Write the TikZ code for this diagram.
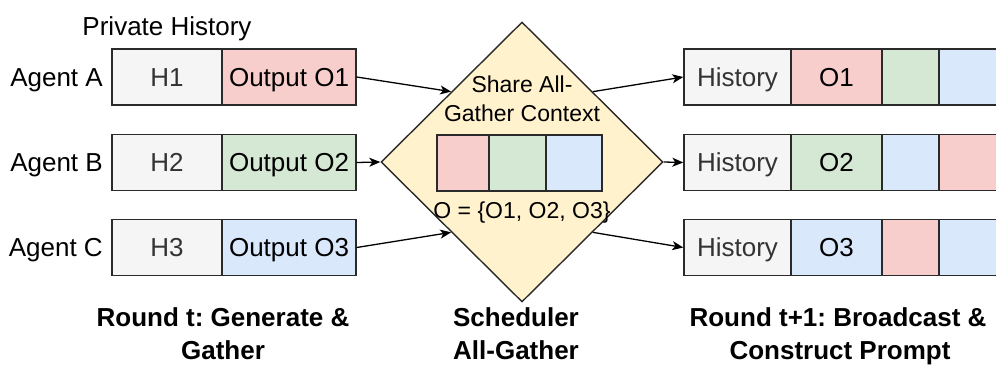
\documentclass[tikz,border=0pt]{standalone}
\usepackage{fontspec}
\setmainfont{Liberation Sans}
\usetikzlibrary{shapes.geometric,arrows.meta}
\definecolor{cgray}{HTML}{F5F5F5}
\definecolor{cred}{HTML}{F8CECC}
\definecolor{cgreen}{HTML}{D5E8D4}
\definecolor{cblue}{HTML}{DAE8FC}
\definecolor{cyellow}{HTML}{FFF2CC}
\definecolor{ctext}{HTML}{333333}
\definecolor{cline}{HTML}{2A2A2A}
\tikzset{
  cell/.style={draw=cline, line width=1.4pt, inner sep=0pt, minimum height=56pt,
    text height=18.6pt, text depth=0pt, font=\fontsize{26}{30}\selectfont},
  gcell/.style={cell, fill=cgray, text=ctext},
  rcell/.style={cell, fill=cred},
  gncell/.style={cell, fill=cgreen},
  bcell/.style={cell, fill=cblue},
  lbl/.style={inner sep=0pt, anchor=base, font=\fontsize{26}{30}\selectfont},
  dlbl/.style={inner sep=0pt, anchor=base, font=\fontsize{23}{28}\selectfont},
  blbl/.style={inner sep=0pt, anchor=base, font=\fontsize{26}{30}\selectfont\bfseries},
  arr/.style={draw=black, line width=1.3pt, -{Stealth[length=11pt,width=9pt,inset=3pt]}},
}
\begin{document}
\frenchspacing
\begin{tikzpicture}[x=1pt,y=-1pt]
\useasboundingbox (0,0) rectangle (996,375);

% left side
\node[lbl] (ph) at (167,35) {Private History};
\node[lbl, anchor=base east] (agA) at (103,86.3) {Agent A};
\node[lbl, anchor=base east] (agB) at (103,171.8) {Agent B};
\node[lbl, anchor=base east] (agC) at (103,256.8) {Agent C};

\node[gcell, minimum width=110pt] (h1) at (167,77) {H1};
\node[rcell, minimum width=134pt] (oA) at (289,77) {Output O1};
\node[gcell, minimum width=110pt] (h2) at (167,162.5) {H2};
\node[gncell, minimum width=134pt] (oB) at (289,162.5) {Output O2};
\node[gcell, minimum width=110pt] (h3) at (167,247.5) {H3};
\node[bcell, minimum width=134pt] (oC) at (289,247.5) {Output O3};

% scheduler diamond
\node[draw=cline, line width=1.4pt, fill=cyellow, shape=diamond, inner sep=0pt,
      minimum width=282pt, minimum height=280pt] (dia) at (522,162) {};
\node[dlbl] (t1) at (522,92.7) {Share All-};
\node[dlbl] (t2) at (522,121.7) {Gather Context};
\node[rcell, minimum width=52pt] (s1) at (463,163) {};
\node[gncell, minimum width=57pt] (s2) at (517.5,163) {};
\node[bcell, minimum width=56pt] (s3) at (574,163) {};
\node[dlbl] (t3) at (522,218.5) {O = \{O1, O2, O3\}};

% right side
\node[gcell, minimum width=107pt] (rA1) at (737.5,77) {History};
\node[rcell, minimum width=91pt] (rA2) at (836.5,77) {O1};
\node[gncell, minimum width=57pt] (rA3) at (910.5,77) {};
\node[bcell, minimum width=58pt] (rA4) at (968,77) {};

\node[gcell, minimum width=107pt] (rB1) at (737.5,162.5) {History};
\node[gncell, minimum width=91pt] (rB2) at (836.5,162.5) {O2};
\node[bcell, minimum width=57pt] (rB3) at (910.5,162.5) {};
\node[rcell, minimum width=58pt] (rB4) at (968,162.5) {};

\node[gcell, minimum width=107pt] (rC1) at (737.5,247.5) {History};
\node[bcell, minimum width=91pt] (rC2) at (836.5,247.5) {O3};
\node[rcell, minimum width=57pt] (rC3) at (910.5,247.5) {};
\node[bcell, minimum width=58pt] (rC4) at (968,247.5) {};

% connectors
\draw[arr] (oA.east) -- (dia.north west);
\draw[arr] (oB.east) -- (dia.west);
\draw[arr] (oC.east) -- (dia.south west);
\draw[arr] (dia.north east) -- (rA1.west);
\draw[arr] (dia.east) -- (rB1.west);
\draw[arr] (dia.south east) -- (rC1.west);

% captions
\node[blbl] (c1a) at (223,326.5) {Round t: Generate \&};
\node[blbl] (c1b) at (223,359) {Gather};
\node[blbl] (c2a) at (516,326.5) {Scheduler};
\node[blbl] (c2b) at (516,359) {All-Gather};
\node[blbl] (c3a) at (838,326.5) {Round t+1: Broadcast \&};
\node[blbl] (c3b) at (840,359) {Construct Prompt};
\end{tikzpicture}
\end{document}
